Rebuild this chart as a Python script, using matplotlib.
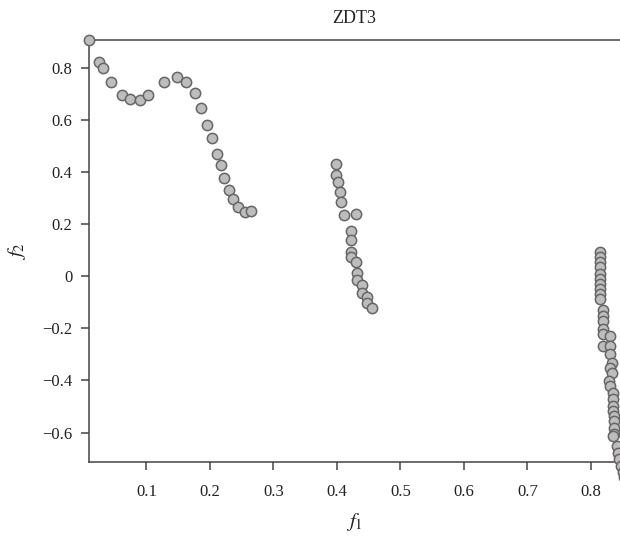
import numpy as np
import matplotlib
matplotlib.use("Agg")
import matplotlib.pyplot as plt

plt.rcParams["font.family"] = ["Liberation Serif", "DejaVu Serif"]
plt.rcParams["mathtext.fontset"] = "stix"

# front points (three disconnected pieces)
f1_seg1 = [0.0095, 0.0246, 0.0309, 0.0446, 0.0615, 0.0741, 0.0893, 0.103, 0.128,
           0.1483, 0.163, 0.1767, 0.1866, 0.1956, 0.2035, 0.2114, 0.217, 0.2229,
           0.2308, 0.2366, 0.2445, 0.256, 0.2655]
f2_seg1 = [0.907, 0.824, 0.798, 0.747, 0.694, 0.681, 0.677, 0.694, 0.747,
           0.765, 0.747, 0.705, 0.647, 0.582, 0.530, 0.469, 0.426, 0.378,
           0.331, 0.297, 0.265, 0.245, 0.251]

f1_seg2 = [0.399, 0.399, 0.4011, 0.4047, 0.4069, 0.4106, 0.430, 0.4216, 0.4216,
           0.4221, 0.4221, 0.430, 0.4322, 0.4322, 0.440, 0.440, 0.448, 0.448, 0.4558]
f2_seg2 = [0.431, 0.390, 0.361, 0.322, 0.285, 0.234, 0.239, 0.174, 0.138,
           0.092, 0.072, 0.054, 0.012, -0.013, -0.035, -0.066, -0.081, -0.103, -0.121]

f1_seg3 = [0.8145, 0.8145, 0.8145, 0.8145, 0.8145, 0.8145, 0.8145, 0.8145, 0.8145,
           0.8145, 0.8187, 0.8187, 0.8187, 0.8187, 0.8187, 0.8302, 0.8187, 0.8306,
           0.8306, 0.8333, 0.8302, 0.8333, 0.8281, 0.8302, 0.8344, 0.8344, 0.8344,
           0.8344, 0.836, 0.836, 0.836, 0.836, 0.8344, 0.8412, 0.8427, 0.8438,
           0.847, 0.850, 0.852]
f2_seg3 = [0.093, 0.074, 0.055, 0.035, 0.010, -0.009, -0.029, -0.048, -0.067,
           -0.086, -0.131, -0.151, -0.170, -0.201, -0.220, -0.228, -0.266, -0.266,
           -0.297, -0.332, -0.351, -0.370, -0.401, -0.420, -0.447, -0.471, -0.498,
           -0.517, -0.536, -0.555, -0.582, -0.605, -0.613, -0.652, -0.679, -0.702,
           -0.730, -0.750, -0.770]

x_ticks = [0.1, 0.2, 0.3, 0.4, 0.5, 0.6, 0.7, 0.8]
y_ticks = [-0.6, -0.4, -0.2, 0, 0.2, 0.4, 0.6, 0.8]
y_tick_labels = ["\u22120.6", "\u22120.4", "\u22120.2", "0", "0.2", "0.4", "0.6", "0.8"]

f1 = f1_seg1 + f1_seg2 + f1_seg3
f2 = f2_seg1 + f2_seg2 + f2_seg3

fig = plt.figure(figsize=(6.2, 5.36), dpi=100)
ax = fig.add_axes([0.1435, 0.138, 0.8565, 0.7875])

ax.scatter(f1, f2, s=55, facecolor="#bfbcbc", edgecolor="#666666", linewidths=1.1,
           zorder=3, clip_on=False)

ax.set_xlim(0.0095, 0.846)
ax.set_ylim(-0.713, 0.907)

for side in ["left", "bottom", "top"]:
    ax.spines[side].set_color("#444444")
    ax.spines[side].set_linewidth(1.1)
ax.spines["right"].set_visible(False)

ax.set_xticks(x_ticks)
ax.set_xticklabels([f"{v:.1f}" for v in x_ticks])
ax.set_yticks(y_ticks)
ax.set_yticklabels(y_tick_labels)
ax.tick_params(axis="both", direction="out", length=6, width=1.1, color="#444444",
               labelsize=12, labelcolor="#222222")
ax.tick_params(axis="x", pad=10)
ax.tick_params(axis="y", pad=6)

ax.set_xlabel(r"$f_1$", fontsize=15, color="#222222", labelpad=8)
ax.set_ylabel(r"$f_2$", fontsize=15, color="#222222", labelpad=10)
ax.set_title("ZDT3", fontsize=13, color="#222222", pad=12)

fig.savefig("out.png", dpi=100)
